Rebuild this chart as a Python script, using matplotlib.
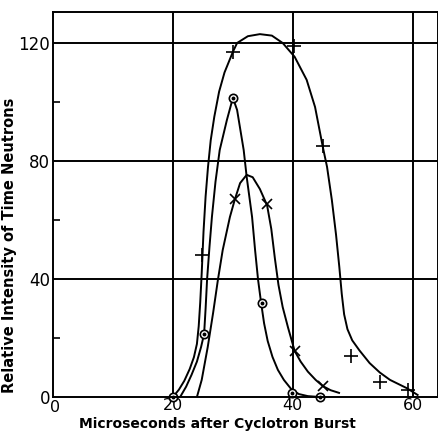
import matplotlib.pyplot as plt

# smooth curves
plus_curve_x = [20, 21.0, 21.9, 22.8, 23.5, 24.0, 24.3, 24.55, 24.8, 25.1, 25.45, 25.85, 26.3,
                26.9, 27.7, 28.6, 30, 30.7, 32.5, 34.5, 36.5, 38.3, 40.3, 42.3, 43.7, 45, 45.7,
                46.5, 47.2, 47.75, 48.15, 48.55, 49.1, 49.9, 51.1, 52.8, 54.5, 56.2, 59, 60.8]
plus_curve_y = [0, 2.5, 5.5, 9.5, 13.5, 18, 24, 32, 42, 56, 68, 78, 87,
                95, 103.5, 110, 117, 120, 122.3, 123, 122.5, 120, 115.3, 107.5, 98.3, 84.7, 78,
                66.8, 55, 44, 35, 28, 23, 19.2, 15.8, 11.5, 8.3, 5.8, 3, 0.7]

circ_curve_x = [21.2, 22.2, 23.1, 24.0, 24.7, 25.2, 25.45, 25.7, 26.1, 26.5, 27.1, 27.8, 29,
                30, 30.7, 31.8, 32.3, 33.2, 33.7, 34.2, 34.7, 35.2, 35.8, 36.6, 37.5, 38.5,
                39.8, 41.0, 42.5, 44.5]
circ_curve_y = [0, 3.5, 7.5, 12, 17, 21.4, 30, 40, 51, 61, 73, 83.7, 93.9,
                101.4, 97.3, 83.7, 74.6, 61, 49.8, 39.7, 32, 25, 19, 13.6, 9.2, 5.8,
                2.5, 1.0, 0.3, 0]

x_curve_x = [24, 24.8, 25.8, 26.7, 27.5, 28.3, 29.5, 30.3, 31.2, 32.3, 33.3, 34.5, 35.7, 36.4,
             37.0, 37.6, 38.3, 39.2, 40.3, 41.3, 42.5, 43.8, 45, 46.3, 47.7]
x_curve_y = [0, 5.8, 16.9, 28.5, 39.7, 49.8, 61, 66.8, 72.5, 75.3, 74.5, 70.5, 65, 57,
             47, 38, 30.5, 23.5, 15.6, 12, 8.6, 5.8, 3.7, 2.3, 1.4]

# measured points
plus_x = [24.8, 30, 40.2, 45, 49.7, 54.6, 59.2]
plus_y = [48, 117, 119, 85, 14, 5, 2.5]
circ_x = [20, 25.2, 30, 34.8, 39.8, 44.5]
circ_y = [0, 21.4, 101.4, 31.9, 1.5, 0]
cross_x = [30.3, 35.7, 40.3, 45]
cross_y = [67, 65.5, 15.6, 3.7]

fig = plt.figure(figsize=(4.39, 4.32), dpi=100)
ax = fig.add_axes([0.1207, 0.081, 0.8770, 0.8912])
ax.set_xlim(0, 64.2)
ax.set_ylim(0, 130.5)

for v in [20, 40, 60]:
    ax.axvline(v, color='black', lw=1.4)
for h in [40, 80, 120]:
    ax.axhline(h, color='black', lw=1.4)

k = dict(color='black', lw=1.4, solid_joinstyle='round')
ax.plot(plus_curve_x, plus_curve_y, **k)
ax.plot(circ_curve_x, circ_curve_y, **k)
ax.plot(x_curve_x, x_curve_y, **k)

ax.plot(plus_x, plus_y, ls='none', marker='+', ms=10, mew=1.2, color='black', clip_on=False)
ax.plot(cross_x, cross_y, ls='none', marker='x', ms=7, mew=1.2, color='black', clip_on=False)
ax.plot(circ_x, circ_y, ls='none', marker='o', ms=6, mew=1.2, mfc='white', mec='black', clip_on=False)
ax.plot(circ_x, circ_y, ls='none', marker='o', ms=1.8, color='black', clip_on=False)

for s in ax.spines.values():
    s.set_linewidth(1.4)

ax.set_xticks([20, 40, 60])
ax.set_xticklabels(['20', '40', '60'], fontsize=11.5)
ax.text(0.4, -1.0, '0', fontsize=11.5, ha='center', va='top')
ax.set_yticks([0, 40, 80, 120])
ax.set_yticklabels(['0', '40', '80', '120'], fontsize=12)
ax.set_yticks([20, 60, 100], minor=True)
ax.tick_params(axis='x', which='major', length=0, pad=1)
ax.tick_params(axis='y', which='major', length=0, pad=2)
ax.tick_params(axis='y', which='minor', direction='in', length=5, width=1.2)

ax.set_xlabel('Microseconds after Cyclotron Burst', fontsize=10, fontweight='bold')
ax.xaxis.set_label_coords(0.426, -0.051)
ax.set_ylabel('Relative Intensity of Time Neutrons', fontsize=10.5, fontweight='bold')
ax.yaxis.set_label_coords(-0.094, 0.395)

fig.savefig('out.png', dpi=100)
